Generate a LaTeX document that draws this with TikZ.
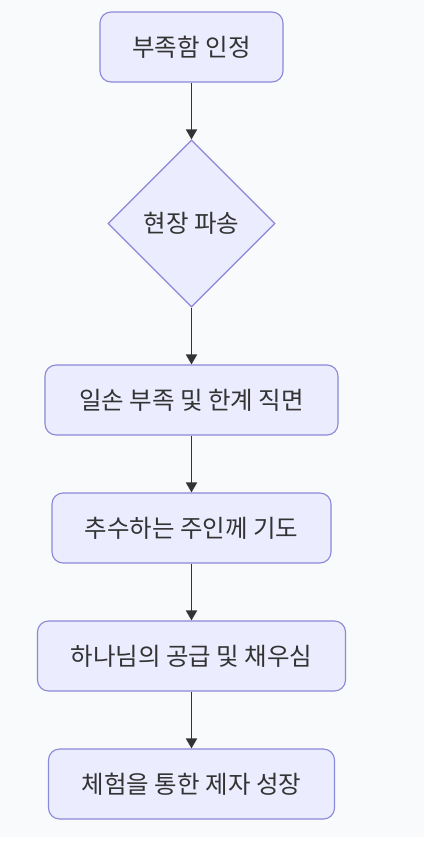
\documentclass[tikz,border=0pt]{standalone}
\usepackage{fontspec}
\newfontfamily\kr{Noto Sans CJK KR}
\usetikzlibrary{shapes.geometric,arrows.meta}
\definecolor{bgc}{HTML}{F9FAFC}
\definecolor{nfill}{HTML}{ECECFF}
\definecolor{nline}{HTML}{8A88D8}
\definecolor{txt}{HTML}{333333}
\begin{document}
\begin{tikzpicture}[x=1pt,y=-1pt,
  box/.style={draw=nline,fill=nfill,line width=1.1pt,rounded corners=11pt,minimum height=70pt,inner sep=0pt,text=txt,font=\kr\fontsize{24.5}{28}\selectfont},
  dia/.style={draw=nline,fill=nfill,line width=1.1pt,diamond,minimum width=167pt,minimum height=167pt,inner sep=0pt,text=txt,font=\kr\fontsize{24.5}{28}\selectfont},
  arr/.style={draw=txt,line width=1.6pt,-{Triangle[length=10pt,width=11pt]}}]
\fill[white] (0,0) rectangle (424,850);
\fill[bgc] (0,0) rectangle (424,837);
\useasboundingbox (0,0) rectangle (424,850);
\node[box,minimum width=183pt] (n1) at (191.5,47) {부족함 인정};
\node[dia] (n2) at (191.5,223.5) {현장 파송};
\node[box,minimum width=293pt] (n3) at (191.5,400) {일손 부족 및 한계 직면};
\node[box,minimum width=279pt] (n4) at (191.5,528) {추수하는 주인께 기도};
\node[box,minimum width=308pt] (n5) at (191.5,656) {하나님의 공급 및 채우심};
\node[box,minimum width=286pt] (n6) at (191.5,784) {체험을 통한 제자 성장};
\draw[arr] (n1) -- (n2);
\draw[arr] (n2) -- (n3);
\draw[arr] (n3) -- (n4);
\draw[arr] (n4) -- (n5);
\draw[arr] (n5) -- (n6);
\end{tikzpicture}
\end{document}
